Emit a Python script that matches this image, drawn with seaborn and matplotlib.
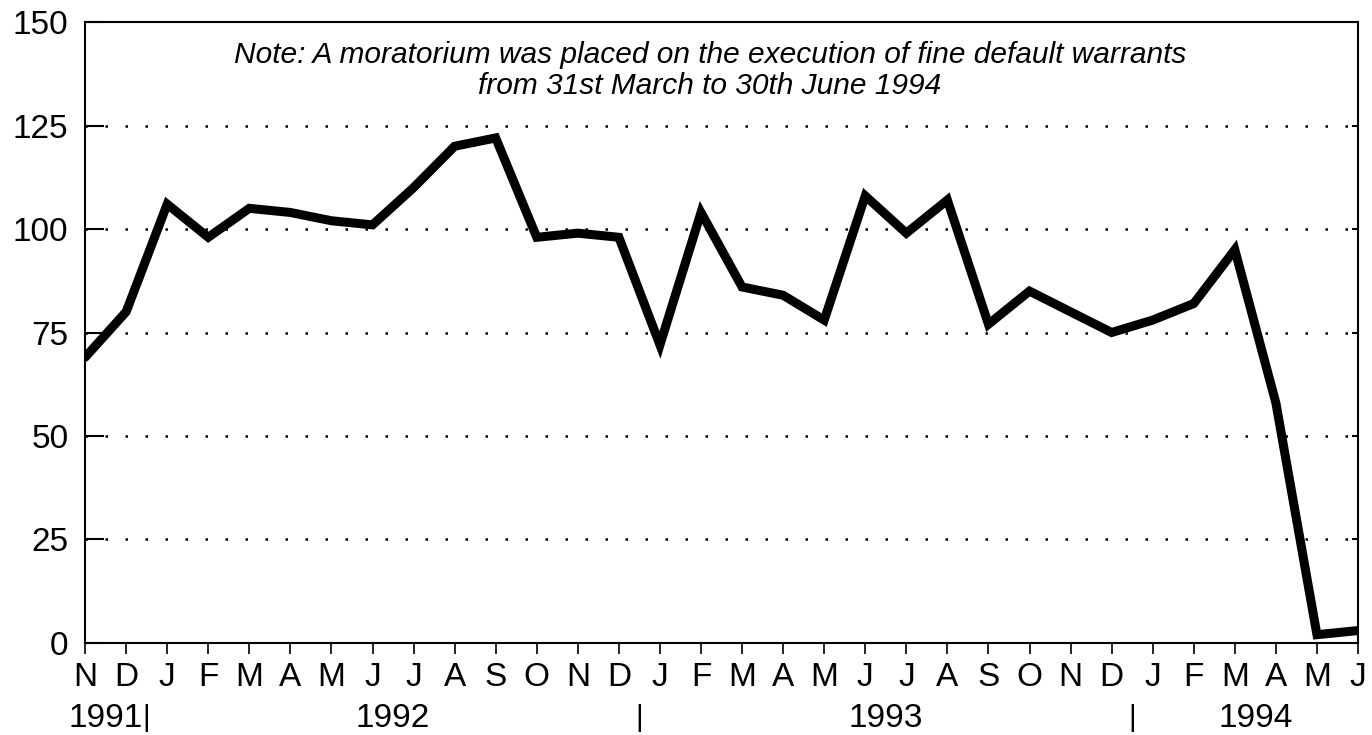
import matplotlib
matplotlib.use("Agg")
import matplotlib.pyplot as plt
import matplotlib.transforms as mtransforms
import seaborn as sns
import pandas as pd

months = ["N", "D", "J", "F", "M", "A", "M", "J", "J", "A", "S", "O", "N", "D",
          "J", "F", "M", "A", "M", "J", "J", "A", "S", "O", "N", "D",
          "J", "F", "M", "A", "M", "J"]
values = [69, 80, 106, 98, 105, 104, 102, 101, 110, 120, 122, 98, 99, 98,
          72, 104, 86, 84, 78, 108, 99, 107, 77, 85, 80, 75,
          78, 82, 95, 58, 2, 3]
years = ["1991", "1992", "1993", "1994"]
year_centers = [0.5, 7.5, 19.5, 28.5]
year_bounds = [1.5, 13.5, 25.5]
y_ticks = [0, 25, 50, 75, 100, 125, 150]
note = ("Note: A moratorium was placed on the execution of fine default warrants\n"
        "from 31st March to 30th June 1994")

sns.set_style("ticks")
plt.rcParams["font.family"] = ["Liberation Sans", "DejaVu Sans"]

df = pd.DataFrame({"idx": range(len(values)), "value": values})

fig, ax = plt.subplots(figsize=(13.72, 7.35), dpi=100)
fig.subplots_adjust(left=0.062, right=0.9898, bottom=0.1252, top=0.970)

sns.lineplot(data=df, x="idx", y="value", ax=ax, color="black",
             linewidth=6.5, solid_joinstyle="miter", zorder=3)

ax.set_xlim(0, len(values) - 1)
ax.set_ylim(0, 150)
ax.set_yticks(y_ticks)
ax.set_xticks(range(len(months)))
ax.set_xticklabels(months)
ax.set_xlabel("")
ax.set_ylabel("")

for y in y_ticks[1:-1]:
    ax.axhline(y, color="black", linewidth=1.8, linestyle=(0, (1, 7)), zorder=1)

for s in ax.spines.values():
    s.set_visible(True)
    s.set_color("black")
    s.set_linewidth(1.5)

ax.tick_params(axis="x", direction="out", length=8, width=1.2, pad=6,
               labelsize=24, colors="black")
ax.tick_params(axis="y", direction="in", length=14, width=1.5, pad=12,
               labelsize=24, colors="black", right=True)
for t in ax.yaxis.get_ticklines()[1::2]:
    t.set_markersize(4)

trans = mtransforms.blended_transform_factory(ax.transData, ax.transAxes)
for yr, xc in zip(years, year_centers):
    ax.text(xc, -0.121, yr, transform=trans, ha="center", va="center",
            fontsize=24, color="black")
for xb in year_bounds:
    ax.text(xb, -0.121, "|", transform=trans, ha="center", va="center",
            fontsize=21, color="black")

ax.text(0.491, 0.922, note, transform=ax.transAxes, ha="center", va="center",
        fontsize=21.5, fontstyle="italic", color="black", linespacing=1.12)

fig.savefig("out.png", dpi=100, facecolor="white")
